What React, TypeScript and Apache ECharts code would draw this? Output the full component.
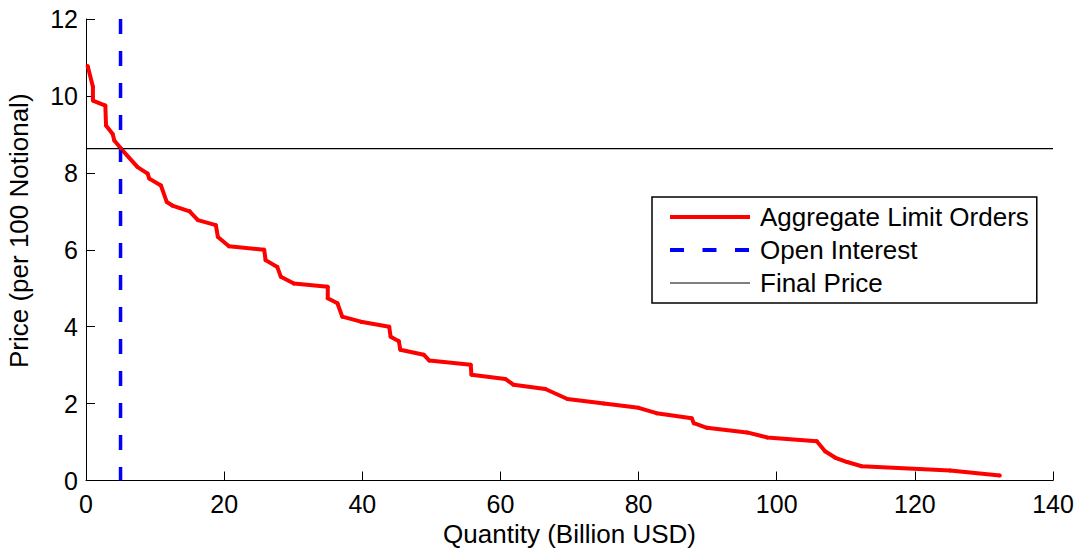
import React, { useEffect, useRef } from "react";
import * as echarts from "echarts";

const quantity = [
  0.24, 1.0, 1.0, 2.8, 2.9, 3.86, 4.1, 5.06, 7.47, 8.92, 9.16, 10.85, 11.7, 12.5, 15.0, 16.2, 18.8, 19.1,
  20.7, 25.8, 26.0, 27.7, 28.2, 30.1, 35.0, 35.0, 36.4, 37.1, 39.8, 43.9, 44.1, 45.3, 45.5, 48.9, 49.7,
  55.7, 55.8, 60.7, 61.9, 66.5, 69.7, 75.0, 80.0, 82.6, 87.7, 88.0, 89.9, 95.7, 98.6, 105.8, 107.0,
  108.5, 110.2, 112.3, 125.1, 132.3,
];
const price = [
  10.78, 10.24, 9.88, 9.75, 9.23, 9.01, 8.84, 8.63, 8.15, 7.98, 7.85, 7.67, 7.24, 7.15, 7.0, 6.77, 6.64,
  6.33, 6.09, 6.0, 5.73, 5.55, 5.3, 5.12, 5.04, 4.74, 4.61, 4.26, 4.13, 4.0, 3.74, 3.62, 3.4, 3.27, 3.12,
  3.01, 2.75, 2.64, 2.49, 2.38, 2.12, 2.0, 1.89, 1.75, 1.62, 1.49, 1.37, 1.25, 1.12, 1.02, 0.76, 0.59,
  0.48, 0.37, 0.26, 0.13,
];
const openInterest = 5.0;
const finalPrice = 8.63;
const xRange = [0, 140];
const yRange = [0, 12];
const seriesNames = ["Aggregate Limit Orders", "Open Interest", "Final Price"];
const xName = "Quantity (Billion USD)";
const yName = "Price (per 100 Notional)";

const FONT = "'Liberation Sans', Arial, Helvetica, sans-serif";

export default function App() {
  const ref = useRef<HTMLDivElement>(null);
  useEffect(() => {
    if (!ref.current) return;
    const chart = echarts.init(ref.current, null, { renderer: "svg" });
    const limitData = quantity.map((q, i) => [q, price[i]]);
    const axisCommon = {
      axisLine: { show: true, lineStyle: { color: "#000", width: 1 } },
      axisTick: { show: true, inside: true, length: 9, lineStyle: { color: "#000", width: 1 } },
      splitLine: { show: false },
      nameTextStyle: { fontFamily: FONT, fontSize: 26, color: "#000" },
    };
    chart.setOption({
      animation: false,
      backgroundColor: "#fff",
      textStyle: { fontFamily: FONT },
      grid: { left: 86, right: 24, top: 19, bottom: 67.5, containLabel: false, outerBoundsMode: "none" },
      xAxis: {
        type: "value",
        min: xRange[0],
        max: xRange[1],
        interval: 20,
        name: xName,
        nameLocation: "middle",
        nameGap: 38,
        ...axisCommon,
        axisLabel: { fontFamily: FONT, fontSize: 25, color: "#000", margin: 11 },
      },
      yAxis: {
        type: "value",
        min: yRange[0],
        max: yRange[1],
        interval: 2,
        name: yName,
        nameLocation: "middle",
        nameGap: 54,
        ...axisCommon,
        nameTextStyle: { fontFamily: FONT, fontSize: 26, color: "#000", padding: [0, 0, 0, 38] },
        axisLabel: { fontFamily: FONT, fontSize: 25, color: "#000", margin: 8 },
      },
      legend: {
        left: 652,
        top: 197,
        orient: "vertical",
        data: [
          {
            name: seriesNames[0],
            itemStyle: { color: "#ff0000", opacity: 1 },
            lineStyle: { color: "#ff0000", width: 4 },
          },
          {
            name: seriesNames[1],
            itemStyle: { opacity: 0 },
            lineStyle: { color: "#0000ff", width: 4, type: [14, 18.5] },
          },
          {
            name: seriesNames[2],
            itemStyle: { opacity: 0 },
            lineStyle: { color: "#000", width: 1.2 },
          },
        ],
        backgroundColor: "#fff",
        borderColor: "#000",
        borderWidth: 1.5,
        borderRadius: 0,
        padding: [7, 8, 7, 16],
        itemWidth: 80,
        itemHeight: 5,
        itemGap: 7,
        textStyle: { fontFamily: FONT, fontSize: 26, color: "#000", lineHeight: 26, padding: [0, 0, 0, 5] },
      },
      series: [
        {
          name: seriesNames[0],
          type: "line",
          data: limitData,
          symbol: "circle",
          symbolSize: 4,
          showSymbol: true,
          itemStyle: { color: "#ff0000" },
          lineStyle: { color: "#ff0000", width: 4 },
        },
        {
          name: seriesNames[1],
          type: "line",
          data: [
            [openInterest, yRange[1]],
            [openInterest, yRange[0]],
          ],
          symbol: "none",
          itemStyle: { color: "#0000ff" },
          lineStyle: { color: "#0000ff", width: 3.5, type: [15, 17] },
        },
        {
          name: seriesNames[2],
          type: "line",
          data: [
            [xRange[0], finalPrice],
            [xRange[1], finalPrice],
          ],
          symbol: "none",
          itemStyle: { color: "#000" },
          lineStyle: { color: "#000", width: 1.2 },
        },
      ],
    });
    return () => chart.dispose();
  }, []);
  return (
    <div
      ref={ref}
      style={{ position: "absolute", left: 0, top: 0, width: 1077, height: 548, background: "#fff" }}
    />
  );
}
